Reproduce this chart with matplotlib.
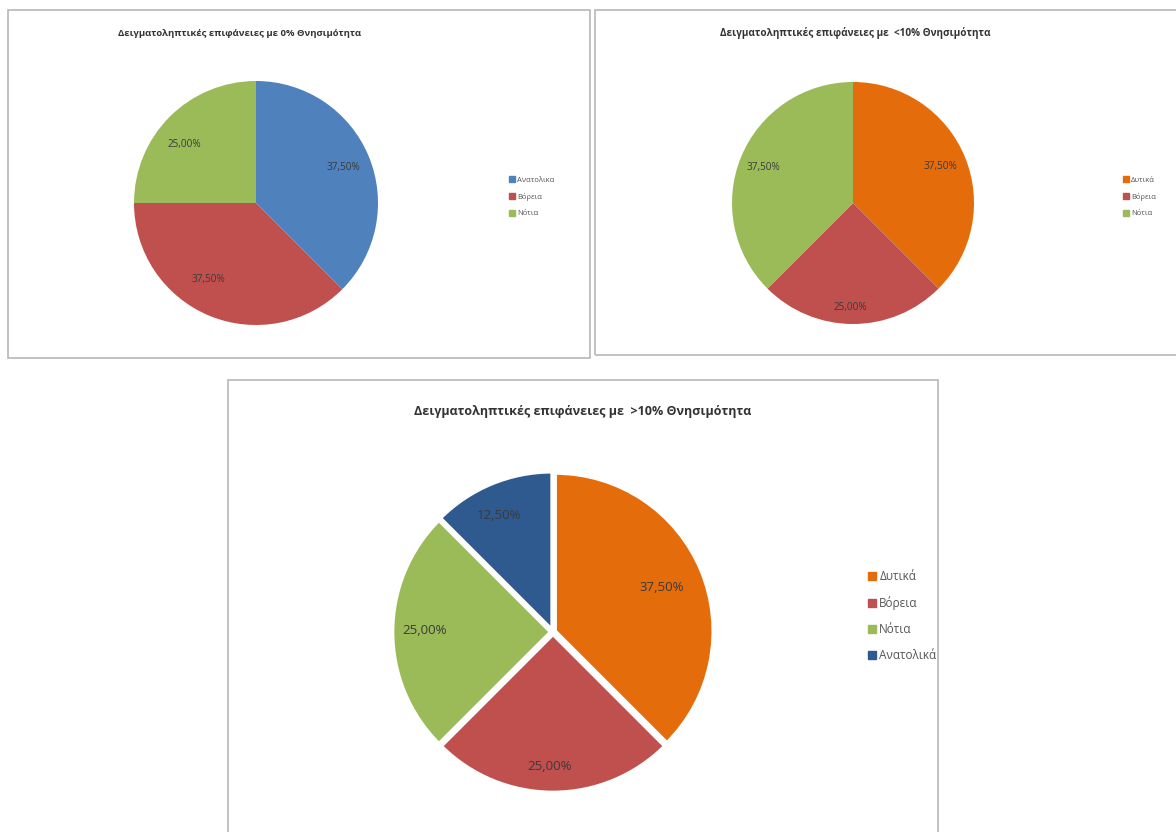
import matplotlib
matplotlib.use('Agg')
import matplotlib.pyplot as plt
from matplotlib.patches import Rectangle
from matplotlib.lines import Line2D

plt.rcParams['font.family'] = ['Open Sans', 'DejaVu Sans']

W, H = 1176, 832

# data
t1 = 'Δειγματοληπτικές επιφάνειες με 0% Θνησιμότητα'
lab1 = ['Ανατολικα', 'Βόρεια', 'Νότια']
val1 = [37.5, 37.5, 25.0]
t2 = 'Δειγματοληπτικές επιφάνειες με  <10% Θνησιμότητα'
lab2 = ['Δυτικά', 'Βόρεια', 'Νότια']
val2 = [37.5, 25.0, 37.5]
t3 = 'Δειγματοληπτικές επιφάνειες με  >10% Θνησιμότητα'
lab3 = ['Δυτικά', 'Βόρεια', 'Νότια', 'Ανατολικά']
val3 = [37.5, 25.0, 25.0, 12.5]

BL = '#4F81BD'; RD = '#C0504D'; GR = '#9BBB59'; OR = '#E46C0A'; DB = '#2F5A8F'
col1 = [BL, RD, GR]
col2 = [OR, RD, GR]
col3 = [OR, RD, GR, DB]

# where Excel put the data labels (fraction of radius)
pos1 = [(0.72, 0.29), (-0.39, -0.63), (-0.59, 0.48)]
pos2 = [(0.72, 0.30), (-0.02, -0.86), (-0.74, 0.29)]
pos3 = [(0.69, 0.28), (-0.02, -0.85), (-0.81, 0.01), (-0.34, 0.74)]

fig = plt.figure(figsize=(W / 100, H / 100), dpi=100)
fig.patch.set_facecolor('white')

def box(x0, y0, x1, y1):
    fig.patches.append(Rectangle((x0 / W, 1 - y1 / H), (x1 - x0) / W, (y1 - y0) / H,
                                 transform=fig.transFigure, fill=False,
                                 edgecolor='#b8b8b8', lw=1.2))

def pie_ax(cx, cy, r):
    return fig.add_axes([(cx - r) / W, 1 - (cy + r) / H, 2 * r / W, 2 * r / H])

def fmt(p):
    return f'{p:.2f}'.replace('.', ',') + '%'

def draw(cx, cy, r, vals, cols, pos, tsize, explode=None, ec=None, lw=0):
    ax = pie_ax(cx, cy, r)
    wp = dict(linewidth=lw, edgecolor=ec if ec else 'none')
    w, t, at = ax.pie(vals, colors=cols, startangle=90, counterclock=False,
                      autopct=fmt, explode=explode, wedgeprops=wp,
                      textprops=dict(fontsize=tsize, color='#3a3a3a'))
    for a, p in zip(at, pos):
        a.set_position(p)
    ax.set_xlim(-1, 1); ax.set_ylim(-1, 1)
    return ax

box(8, 10, 590, 358)
box(595, 10, 1180, 355)
box(228, 380, 938, 840)

# top-left
draw(256, 203, 122, val1, col1, pos1, 7.2)
fig.text(240 / W, 1 - 33 / H, t1, ha='center', va='center', fontsize=6.8,
         fontweight='bold', color='#333333')
h = [Line2D([], [], marker='s', ls='', color=c, ms=4) for c in col1]
fig.legend(h, lab1, loc='center left', bbox_to_anchor=(503 / W, 1 - 197 / H),
           frameon=False, fontsize=5.5, labelcolor='#555555', handlelength=0.6,
           handletextpad=0.3, labelspacing=1.15)

# top-right
draw(853, 203, 121, val2, col2, pos2, 7.2)
fig.text(855 / W, 1 - 33 / H, t2, ha='center', va='center', fontsize=7.2,
         fontweight='bold', color='#333333')
h = [Line2D([], [], marker='s', ls='', color=c, ms=4) for c in col2]
fig.legend(h, lab2, loc='center left', bbox_to_anchor=(1117 / W, 1 - 197 / H),
           frameon=False, fontsize=5.5, labelcolor='#555555', handlelength=0.6,
           handletextpad=0.3, labelspacing=1.15)

# bottom
draw(553, 632, 158, val3, col3, pos3, 9.5,
     explode=[0.015] * 4, ec='white', lw=2.5)
fig.text(583 / W, 1 - 411 / H, t3, ha='center', va='center', fontsize=9,
         fontweight='bold', color='#333333')
h = [Line2D([], [], marker='s', ls='', color=c, ms=5.5) for c in col3]
fig.legend(h, lab3, loc='center left', bbox_to_anchor=(858 / W, 1 - 616 / H),
           frameon=False, fontsize=8.5, labelcolor='#555555', handlelength=0.6,
           handletextpad=0.3, labelspacing=1.1)

fig.savefig('out.png', dpi=100, facecolor='white')
